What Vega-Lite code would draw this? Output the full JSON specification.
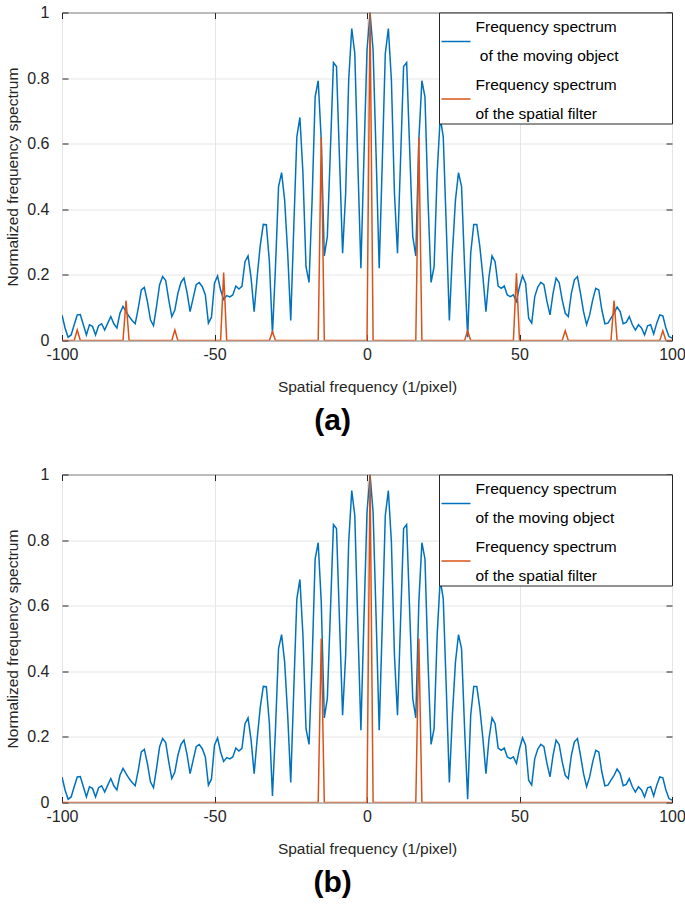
{
  "$schema": "https://vega.github.io/schema/vega-lite/v6.json",
  "padding": {"left": 5, "top": 3.5, "right": 5, "bottom": 5},
  "config": {
    "font": "Liberation Sans",
    "view": {"stroke": "#262626", "strokeWidth": 1},
    "axis": {
      "domain": false,
      "gridColor": "#e6e6e6",
      "gridWidth": 1,
      "tickColor": "#262626",
      "tickSize": -6,
      "labelColor": "#262626",
      "titleColor": "#262626",
      "labelFontSize": 16,
      "titleFontSize": 15.5,
      "titleFontWeight": "normal"
    },
    "legend": {
      "orient": "top-right",
      "offset": 0,
      "title": null,
      "strokeColor": "#262626",
      "fillColor": "white",
      "padding": 1.5,
      "symbolOffset": 0,
      "symbolType": "stroke",
      "symbolSize": 841,
      "symbolStrokeWidth": 1.5,
      "labelFontSize": 15.5,
      "labelLimit": 400,
      "labelColor": "black",
      "labelOffset": 4,
      "rowPadding": 6.5
    }
  },
  "datasets": {
    "object": [
      {"x":-100,"y":0.078},{"x":-99,"y":0.038},{"x":-98,"y":0.010},{"x":-97,"y":0.017},{"x":-96,"y":0.048},
      {"x":-95,"y":0.078},{"x":-94,"y":0.079},{"x":-93,"y":0.048},{"x":-92,"y":0.017},{"x":-91,"y":0.048},
      {"x":-90,"y":0.043},{"x":-89,"y":0.017},{"x":-88,"y":0.045},{"x":-87,"y":0.051},{"x":-86,"y":0.032},
      {"x":-85,"y":0.053},{"x":-84,"y":0.073},{"x":-83,"y":0.051},{"x":-82,"y":0.038},{"x":-81,"y":0.083},
      {"x":-80,"y":0.104},{"x":-79,"y":0.088},{"x":-78,"y":0.073},{"x":-77,"y":0.061},{"x":-76,"y":0.051},
      {"x":-75,"y":0.098},{"x":-74,"y":0.154},{"x":-73,"y":0.162},{"x":-72,"y":0.119},{"x":-71,"y":0.063},
      {"x":-70,"y":0.045},{"x":-69,"y":0.104},{"x":-68,"y":0.170},{"x":-67,"y":0.195},{"x":-66,"y":0.183},
      {"x":-65,"y":0.124},{"x":-64,"y":0.073},{"x":-63,"y":0.093},{"x":-62,"y":0.144},{"x":-61,"y":0.177},
      {"x":-60,"y":0.190},{"x":-59,"y":0.146},{"x":-58,"y":0.088},{"x":-57,"y":0.129},{"x":-56,"y":0.170},
      {"x":-55,"y":0.177},{"x":-54,"y":0.164},{"x":-53,"y":0.139},{"x":-52,"y":0.053},{"x":-51,"y":0.071},
      {"x":-50,"y":0.175},{"x":-49,"y":0.197},{"x":-48,"y":0.154},{"x":-47,"y":0.125},{"x":-46,"y":0.137},
      {"x":-45,"y":0.133},{"x":-44,"y":0.139},{"x":-43,"y":0.166},{"x":-42,"y":0.157},{"x":-41,"y":0.165},
      {"x":-40,"y":0.240},{"x":-39,"y":0.258},{"x":-38,"y":0.190},{"x":-37,"y":0.088},{"x":-36,"y":0.195},
      {"x":-35,"y":0.290},{"x":-34,"y":0.354},{"x":-33,"y":0.353},{"x":-32,"y":0.240},{"x":-31,"y":0.020},
      {"x":-30,"y":0.225},{"x":-29,"y":0.469},{"x":-28,"y":0.512},{"x":-27,"y":0.428},{"x":-26,"y":0.266},
      {"x":-25,"y":0.061},{"x":-24,"y":0.347},{"x":-23,"y":0.621},{"x":-22,"y":0.680},{"x":-21,"y":0.510},
      {"x":-20,"y":0.225},{"x":-19,"y":0.177},{"x":-18,"y":0.428},{"x":-17,"y":0.743},{"x":-16,"y":0.792},
      {"x":-15,"y":0.611},{"x":-14,"y":0.258},{"x":-13,"y":0.317},{"x":-12,"y":0.581},{"x":-11,"y":0.847},
      {"x":-10,"y":0.835},{"x":-9,"y":0.550},{"x":-8,"y":0.266},{"x":-7,"y":0.449},{"x":-6,"y":0.794},
      {"x":-5,"y":0.951},{"x":-4,"y":0.875},{"x":-3,"y":0.540},{"x":-2,"y":0.220},{"x":-1,"y":0.560},
      {"x":0,"y":0.885},{"x":1,"y":1.000},{"x":2,"y":0.885},{"x":3,"y":0.560},{"x":4,"y":0.220},
      {"x":5,"y":0.540},{"x":6,"y":0.875},{"x":7,"y":0.951},{"x":8,"y":0.794},{"x":9,"y":0.449},
      {"x":10,"y":0.266},{"x":11,"y":0.550},{"x":12,"y":0.835},{"x":13,"y":0.847},{"x":14,"y":0.581},
      {"x":15,"y":0.317},{"x":16,"y":0.258},{"x":17,"y":0.611},{"x":18,"y":0.792},{"x":19,"y":0.743},
      {"x":20,"y":0.428},{"x":21,"y":0.177},{"x":22,"y":0.225},{"x":23,"y":0.510},{"x":24,"y":0.680},
      {"x":25,"y":0.621},{"x":26,"y":0.347},{"x":27,"y":0.061},{"x":28,"y":0.266},{"x":29,"y":0.428},
      {"x":30,"y":0.512},{"x":31,"y":0.469},{"x":32,"y":0.225},{"x":33,"y":0.010},{"x":34,"y":0.266},
      {"x":35,"y":0.354},{"x":36,"y":0.354},{"x":37,"y":0.286},{"x":38,"y":0.195},{"x":39,"y":0.088},
      {"x":40,"y":0.195},{"x":41,"y":0.258},{"x":42,"y":0.240},{"x":43,"y":0.166},{"x":44,"y":0.159},
      {"x":45,"y":0.166},{"x":46,"y":0.139},{"x":47,"y":0.134},{"x":48,"y":0.139},{"x":49,"y":0.119},
      {"x":50,"y":0.164},{"x":51,"y":0.197},{"x":52,"y":0.175},{"x":53,"y":0.068},{"x":54,"y":0.053},
      {"x":55,"y":0.134},{"x":56,"y":0.163},{"x":57,"y":0.177},{"x":58,"y":0.170},{"x":59,"y":0.119},
      {"x":60,"y":0.078},{"x":61,"y":0.144},{"x":62,"y":0.190},{"x":63,"y":0.177},{"x":64,"y":0.124},
      {"x":65,"y":0.083},{"x":66,"y":0.073},{"x":67,"y":0.144},{"x":68,"y":0.185},{"x":69,"y":0.195},
      {"x":70,"y":0.144},{"x":71,"y":0.088},{"x":72,"y":0.048},{"x":73,"y":0.078},{"x":74,"y":0.124},
      {"x":75,"y":0.159},{"x":76,"y":0.154},{"x":77,"y":0.093},{"x":78,"y":0.051},{"x":79,"y":0.053},
      {"x":80,"y":0.068},{"x":81,"y":0.083},{"x":82,"y":0.102},{"x":83,"y":0.088},{"x":84,"y":0.051},
      {"x":85,"y":0.055},{"x":86,"y":0.073},{"x":87,"y":0.048},{"x":88,"y":0.032},{"x":89,"y":0.048},
      {"x":90,"y":0.038},{"x":91,"y":0.017},{"x":92,"y":0.045},{"x":93,"y":0.048},{"x":94,"y":0.020},
      {"x":95,"y":0.053},{"x":96,"y":0.078},{"x":97,"y":0.075},{"x":98,"y":0.038},{"x":99,"y":0.012},
      {"x":100,"y":0.007}
    ],
    "filterA": [
      {"x":-100,"y":0},{"x":-96,"y":0},{"x":-95,"y":0.032},{"x":-94,"y":0},
      {"x":-80,"y":0},{"x":-79,"y":0.122},{"x":-78,"y":0},
      {"x":-64,"y":0},{"x":-63,"y":0.032},{"x":-62,"y":0},
      {"x":-48,"y":0},{"x":-47,"y":0.207},{"x":-46,"y":0},
      {"x":-32,"y":0},{"x":-31,"y":0.027},{"x":-30,"y":0},
      {"x":-16,"y":0},{"x":-15,"y":0.62},{"x":-14,"y":0},
      {"x":0,"y":0},{"x":1,"y":1.0},{"x":2,"y":0},
      {"x":16,"y":0},{"x":17,"y":0.62},{"x":18,"y":0},
      {"x":32,"y":0},{"x":33,"y":0.03},{"x":34,"y":0},
      {"x":48,"y":0},{"x":49,"y":0.205},{"x":50,"y":0},
      {"x":64,"y":0},{"x":65,"y":0.03},{"x":66,"y":0},
      {"x":80,"y":0},{"x":81,"y":0.122},{"x":82,"y":0},
      {"x":96,"y":0},{"x":97,"y":0.03},{"x":98,"y":0},{"x":100,"y":0}
    ],
    "filterB": [
      {"x":-100,"y":0},{"x":-16,"y":0},{"x":-15,"y":0.5},{"x":-14,"y":0},
      {"x":0,"y":0},{"x":1,"y":1.0},{"x":2,"y":0},
      {"x":16,"y":0},{"x":17,"y":0.5},{"x":18,"y":0},{"x":100,"y":0}
    ]
  },
  "spacing": 29,
  "resolve": {"scale": {"color": "independent"}, "legend": {"color": "independent"}},
  "vconcat": [
    {
      "width": 610, "height": 328,
      "title": {"text": "(a)", "orient": "bottom", "fontSize": 30, "fontWeight": "bold", "color": "black", "offset": 11, "frame": "bounds", "dx": -13},
      "resolve": {"axis": {"x": "independent", "y": "independent"}},
      "layer": [
        {
          "data": {"name": "object"},
          "mark": {"type": "line", "strokeWidth": 1.5, "clip": true},
          "encoding": {
            "x": {"field": "x", "type": "quantitative", "scale": {"domain": [-100, 100], "nice": false},
                  "axis": {"orient": "bottom", "values": [-100, -50, 0, 50, 100], "labelExpr": "'' + datum.value", "labelFlush": false, "grid": true, "title": "Spatial frequency (1/pixel)", "titlePadding": 17, "labelPadding": 12}},
            "y": {"field": "y", "type": "quantitative", "scale": {"domain": [0, 1], "nice": false},
                  "axis": {"orient": "left", "values": [0, 0.2, 0.4, 0.6, 0.8, 1], "format": ".1~f", "grid": true, "title": "Normalized frequency spectrum", "titlePadding": 6, "labelPadding": 19}},
            "color": {"datum": "object", "type": "nominal",
                      "scale": {"domain": ["object", "filter"], "range": ["#0072BD", "#D95319"]},
                      "legend": {"labelExpr": "datum.label == 'object' ? ['Frequency spectrum', '\u200b\u00a0of the moving object\u00a0\u00a0\u00a0\u00a0\u00a0\u00a0\u00a0\u00a0\u00a0\u00a0\u00a0\u00a0\u200b'] : ['Frequency spectrum', 'of the spatial filter']",
                                 "encoding": {"labels": {"lineHeight": {"value": 29}, "y": {"value": 13}}, "symbols": {"y": {"value": 27.5}}}}}
          }
        },
        {
          "data": {"name": "filterA"},
          "mark": {"type": "line", "strokeWidth": 1.5, "clip": true},
          "encoding": {
            "x": {"field": "x", "type": "quantitative", "scale": {"domain": [-100, 100], "nice": false},
                  "axis": {"orient": "top", "values": [-100, -50, 0, 50, 100], "labels": false, "grid": false, "title": null}},
            "y": {"field": "y", "type": "quantitative", "scale": {"domain": [0, 1], "nice": false},
                  "axis": {"orient": "right", "values": [0, 0.2, 0.4, 0.6, 0.8, 1], "labels": false, "grid": false, "title": null}},
            "color": {"datum": "filter", "type": "nominal"}
          }
        }
      ]
    },
    {
      "width": 610, "height": 328,
      "title": {"text": "(b)", "orient": "bottom", "fontSize": 30, "fontWeight": "bold", "color": "black", "offset": 11, "frame": "bounds", "dx": -13},
      "resolve": {"axis": {"x": "independent", "y": "independent"}},
      "layer": [
        {
          "data": {"name": "object"},
          "mark": {"type": "line", "strokeWidth": 1.5, "clip": true},
          "encoding": {
            "x": {"field": "x", "type": "quantitative", "scale": {"domain": [-100, 100], "nice": false},
                  "axis": {"orient": "bottom", "values": [-100, -50, 0, 50, 100], "labelExpr": "'' + datum.value", "labelFlush": false, "grid": true, "title": "Spatial frequency (1/pixel)", "titlePadding": 17, "labelPadding": 12}},
            "y": {"field": "y", "type": "quantitative", "scale": {"domain": [0, 1], "nice": false},
                  "axis": {"orient": "left", "values": [0, 0.2, 0.4, 0.6, 0.8, 1], "format": ".1~f", "grid": true, "title": "Normalized frequency spectrum", "titlePadding": 6, "labelPadding": 19}},
            "color": {"datum": "object", "type": "nominal",
                      "scale": {"domain": ["object", "filter"], "range": ["#0072BD", "#D95319"]},
                      "legend": {"labelExpr": "datum.label == 'object' ? ['Frequency spectrum', 'of the moving object\u00a0\u00a0\u00a0\u00a0\u00a0\u00a0\u00a0\u00a0\u00a0\u00a0\u00a0\u00a0\u00a0\u200b'] : ['Frequency spectrum', 'of the spatial filter']",
                                 "encoding": {"labels": {"lineHeight": {"value": 29}, "y": {"value": 13}}, "symbols": {"y": {"value": 27.5}}}}}
          }
        },
        {
          "data": {"name": "filterB"},
          "mark": {"type": "line", "strokeWidth": 1.5, "clip": true},
          "encoding": {
            "x": {"field": "x", "type": "quantitative", "scale": {"domain": [-100, 100], "nice": false},
                  "axis": {"orient": "top", "values": [-100, -50, 0, 50, 100], "labels": false, "grid": false, "title": null}},
            "y": {"field": "y", "type": "quantitative", "scale": {"domain": [0, 1], "nice": false},
                  "axis": {"orient": "right", "values": [0, 0.2, 0.4, 0.6, 0.8, 1], "labels": false, "grid": false, "title": null}},
            "color": {"datum": "filter", "type": "nominal"}
          }
        }
      ]
    }
  ]
}
